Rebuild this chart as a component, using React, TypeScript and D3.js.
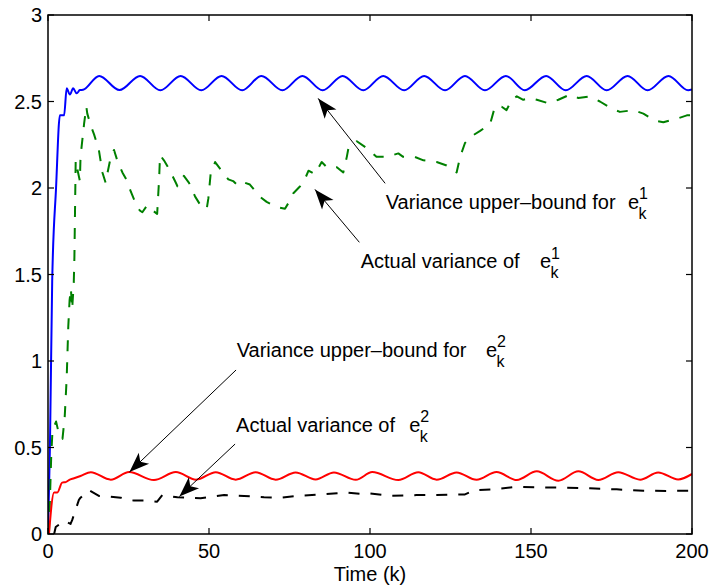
import React from 'react';
import * as d3 from 'd3';

// [k, value] pairs
const upperBound1: [number, number][] = [
  [0, 0], [0.6, 0.5], [1.3, 1.46], [2.5, 2.0], [3.7, 2.42], [5.0, 2.42], [5.8, 2.576], [6.8, 2.54],
  [7.8, 2.576], [8.9, 2.547], [9.9, 2.566], [10.9, 2.568], [15.9, 2.648], [22.2, 2.566], [28.6, 2.648],
  [34.9, 2.565], [41.2, 2.648], [47.6, 2.565], [53.9, 2.648], [60.3, 2.565], [66.3, 2.648], [72.8, 2.565],
  [79.0, 2.648], [85.3, 2.565], [91.5, 2.648], [97.9, 2.565], [104.1, 2.648], [110.6, 2.565], [116.8, 2.648],
  [123.3, 2.565], [129.5, 2.648], [135.7, 2.565], [142.2, 2.648], [148.1, 2.565], [154.7, 2.648],
  [160.8, 2.565], [167.3, 2.648], [173.5, 2.565], [180.0, 2.648], [186.2, 2.565], [192.7, 2.648],
  [198.8, 2.565], [200, 2.57],
];

const actual1: [number, number][] = [
  [0.3, 0], [0.6, 0.2], [1.0, 0.45], [1.4, 0.6], [2.5, 0.65], [3.5, 0.57], [4.5, 0.55], [5.2, 0.68],
  [5.8, 0.9], [6.3, 1.2], [6.7, 1.35], [7.1, 1.42], [7.5, 1.3], [8.0, 1.45], [8.2, 1.6], [8.6, 2.16],
  [9.1, 2.11], [9.9, 2.04], [10.1, 2.18], [11.2, 2.37], [11.9, 2.47], [12.2, 2.43], [13.3, 2.36],
  [14.3, 2.31], [15.8, 2.22], [16.9, 2.09], [17.9, 2.03], [18.4, 2.08], [19.5, 2.18], [20.5, 2.22],
  [21.5, 2.16], [23.1, 2.09], [24.6, 2.04], [25.7, 1.98], [27.5, 1.9], [28.5, 1.87], [29.3, 1.86],
  [30.8, 1.9], [31.9, 1.88], [33.9, 1.85], [34.5, 2.05], [34.8, 2.19], [36, 2.16], [37.6, 2.11],
  [39.7, 2.03], [40.2, 2.01], [42.2, 2.07], [43.8, 2.03], [45.7, 1.95], [47.7, 1.89], [49.3, 1.88],
  [49.8, 1.94], [50.5, 2.08], [51.9, 2.15], [53.9, 2.1], [56, 2.05], [57.5, 2.04], [58.6, 2.02],
  [60.2, 2.04], [61.2, 2.03], [62.7, 2.02], [65.8, 1.95], [67.9, 1.92], [71, 1.89], [73.6, 1.88],
  [75.2, 1.93], [76.2, 1.97], [78.3, 2.01], [79.3, 2.03], [80.9, 2.1], [82.9, 2.08], [85, 2.15],
  [86.6, 2.12], [89.7, 2.12], [91.7, 2.09], [92.8, 2.18], [93.3, 2.23], [95.9, 2.27], [99, 2.23],
  [102, 2.18], [105.2, 2.18], [108.8, 2.2], [110.3, 2.18], [113.9, 2.18], [116.6, 2.16], [120.7, 2.15],
  [123.8, 2.13], [126.9, 2.09], [128, 2.18], [129.5, 2.26], [131.6, 2.3], [134.2, 2.33], [137.3, 2.37],
  [138.8, 2.47], [140.9, 2.47], [142.4, 2.45], [144, 2.51], [145.6, 2.53], [147.6, 2.51], [149.7, 2.52],
  [151.8, 2.51], [155.4, 2.49], [158.5, 2.51], [162.1, 2.54], [164.7, 2.52], [168.3, 2.53], [171.4, 2.5],
  [175, 2.46], [177.6, 2.44], [181.8, 2.45], [184.9, 2.43], [188.5, 2.39], [191.1, 2.38], [195.2, 2.4],
  [198.4, 2.42], [200, 2.42],
];

const upperBound2: [number, number][] = [
  [0.3, 0], [1.9, 0.24], [2.9, 0.24], [4.4, 0.297], [5.5, 0.3], [6.5, 0.312], [8.1, 0.322], [10.1, 0.335],
  [13.3, 0.357], [19.5, 0.314], [25.2, 0.358], [32.9, 0.312], [39.7, 0.358], [46.0, 0.314], [52.1, 0.357],
  [58.3, 0.314], [64.5, 0.357], [70.7, 0.314], [76.9, 0.356], [83.1, 0.315], [88.8, 0.356], [95.6, 0.313],
  [100.7, 0.358], [108.8, 0.312], [115, 0.357], [120.7, 0.314], [126.9, 0.356], [133.1, 0.313],
  [139.3, 0.358], [145.6, 0.312], [151.8, 0.362], [158.5, 0.308], [164.7, 0.362], [170.9, 0.312],
  [177.1, 0.357], [183.9, 0.314], [189.5, 0.356], [195.7, 0.315], [200, 0.347],
];

const actual2: [number, number][] = [
  [1.9, 0], [2.4, 0.04], [5, 0.077], [7, 0.058], [7.5, 0.08], [9.6, 0.197], [10.1, 0.21], [12.7, 0.254],
  [15.8, 0.22], [19.5, 0.216], [22.6, 0.21], [26.7, 0.193], [29.8, 0.193], [33.9, 0.187], [35.5, 0.225],
  [40.2, 0.212], [47.4, 0.206], [54.7, 0.225], [60.9, 0.22], [67.1, 0.212], [72.3, 0.21], [77.4, 0.22],
  [84.7, 0.229], [89.8, 0.235], [93, 0.239], [98.1, 0.231], [100, 0.235], [106.2, 0.221], [114.5, 0.225],
  [120.7, 0.225], [129.5, 0.229], [132.6, 0.254], [138.3, 0.258], [145.6, 0.273], [151.8, 0.27],
  [160, 0.268], [168.3, 0.264], [176.6, 0.258], [184.9, 0.25], [193.2, 0.249], [200, 0.25],
];

const xTicks = [0, 50, 100, 150, 200];
const yTicks = [0, 0.5, 1, 1.5, 2, 2.5, 3];

// annotations in data units: text start, arrow tail, arrow tip
const notes = [
  { label: 'Variance upper\u2013bound for', sup: '1', tk: 104.9, ty: 1.879, eOff: 242.3, fk: 104.7, fy: 2.027, ak: 83.9, ay: 2.518 },
  { label: 'Actual variance of', sup: '1', tk: 97.1, ty: 1.536, eOff: 179.3, fk: 96.7, fy: 1.686, ak: 82.9, ay: 1.992 },
  { label: 'Variance upper\u2013bound for', sup: '2', tk: 58.6, ty: 1.025, eOff: 249.3, fk: 58.4, fy: 0.948, ak: 25.3, ay: 0.358 },
  { label: 'Actual variance of', sup: '2', tk: 58.4, ty: 0.591, eOff: 173.3, fk: 58.1, fy: 0.52, ak: 40.8, ay: 0.217 },
];

const W = 709, H = 588;
const m = { left: 48, right: 692, top: 15, bottom: 534 };
const FONT = '"Liberation Sans", Arial, Helvetica, sans-serif';

export default function App() {
  const x = d3.scaleLinear().domain([0, 200]).range([m.left, m.right]);
  const y = d3.scaleLinear().domain([0, 3]).range([m.bottom, m.top]);

  const smooth = d3.line<[number, number]>().x(d => x(d[0])).y(d => y(d[1])).curve(d3.curveMonotoneX);
  const straight = d3.line<[number, number]>().x(d => x(d[0])).y(d => y(d[1]));

  const tickLen = 6;

  const arrowHead = (x0: number, y0: number, x1: number, y1: number) => {
    const len = Math.hypot(x0 - x1, y0 - y1);
    const ux = (x0 - x1) / len, uy = (y0 - y1) / len;
    const px = -uy, py = ux;
    const L = 20, Wd = 7.5, N = 15;
    const pts = [
      [x1, y1],
      [x1 + ux * L + px * Wd, y1 + uy * L + py * Wd],
      [x1 + ux * N, y1 + uy * N],
      [x1 + ux * L - px * Wd, y1 + uy * L - py * Wd],
    ];
    return pts.map(p => p.join(',')).join(' ');
  };

  return (
    <svg width={W} height={H} style={{ position: 'absolute', left: 0, top: 0, background: '#fff' }} fontFamily={FONT}>
      <defs>
        <clipPath id="plot">
          <rect x={m.left} y={m.top} width={m.right - m.left} height={m.bottom - m.top} />
        </clipPath>
      </defs>
      <rect x={0} y={0} width={W} height={H} fill="#fff" />

      <g clipPath="url(#plot)" fill="none" strokeLinejoin="round">
        <path d={smooth(upperBound1) || ''} stroke="#0000ff" strokeWidth={2} />
        <path d={straight(actual1) || ''} stroke="#008000" strokeWidth={2} strokeDasharray="11,11" />
        <path d={smooth(upperBound2) || ''} stroke="#ff0000" strokeWidth={2} />
        <path d={straight(actual2) || ''} stroke="#000" strokeWidth={2} strokeDasharray="11,11" />
      </g>

      {/* box + ticks */}
      <rect x={m.left} y={m.top} width={m.right - m.left} height={m.bottom - m.top} fill="none" stroke="#000" strokeWidth={1.5} />
      {xTicks.map(t => (
        <g key={'x' + t}>
          <line x1={x(t)} x2={x(t)} y1={m.bottom} y2={m.bottom - tickLen} stroke="#000" strokeWidth={1.2} />
          <line x1={x(t)} x2={x(t)} y1={m.top} y2={m.top + tickLen} stroke="#000" strokeWidth={1.2} />
          <text x={x(t)} y={558} textAnchor="middle" fontSize={20} fill="#000">{String(t)}</text>
        </g>
      ))}
      {yTicks.map(t => (
        <g key={'y' + t}>
          <line x1={m.left} x2={m.left + tickLen} y1={y(t)} y2={y(t)} stroke="#000" strokeWidth={1.2} />
          <line x1={m.right} x2={m.right - tickLen} y1={y(t)} y2={y(t)} stroke="#000" strokeWidth={1.2} />
          <text x={42} y={y(t) + 7.2} textAnchor="end" fontSize={20} fill="#000">{String(t)}</text>
        </g>
      ))}
      <text x={(m.left + m.right) / 2} y={581} textAnchor="middle" fontSize={20} fill="#000">Time (k)</text>

      {/* annotations */}
      {notes.map((n, i) => {
        const tx = x(n.tk), ty = y(n.ty);
        const fx = x(n.fk), fy = y(n.fy), ax = x(n.ak), ay = y(n.ay);
        const ex = tx + n.eOff;
        return (
          <g key={'n' + i}>
            <line x1={fx} y1={fy} x2={ax} y2={ay} stroke="#000" strokeWidth={1} />
            <polygon points={arrowHead(fx, fy, ax, ay)} fill="#000" />
            <text x={tx} y={ty} fontSize={20} fill="#000">{n.label}</text>
            <text x={ex} y={ty} fontSize={20} fill="#000">e</text>
            <text x={ex + 11} y={ty - 9.5} fontSize={16} fill="#000">{n.sup}</text>
            <text x={ex + 10.5} y={ty + 10} fontSize={16} fill="#000">k</text>
          </g>
        );
      })}
    </svg>
  );
}
